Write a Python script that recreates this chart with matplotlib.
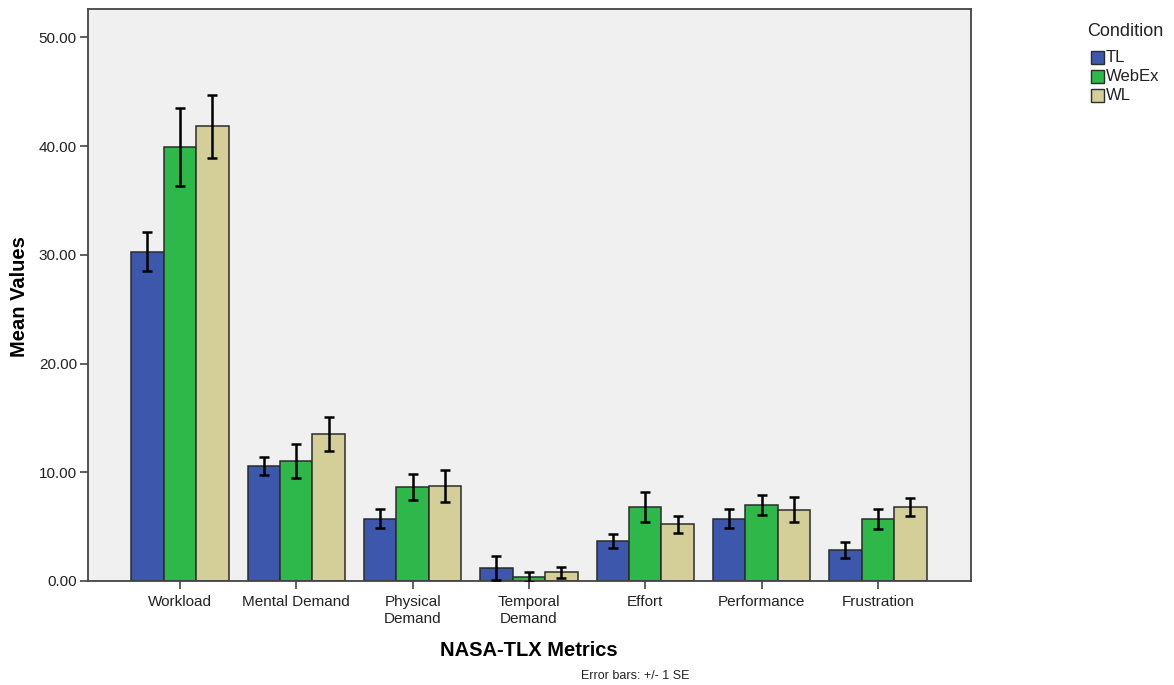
import matplotlib
matplotlib.use("Agg")
import matplotlib.pyplot as plt
import numpy as np
from matplotlib.patches import Rectangle

plt.rcParams['font.family'] = ['Liberation Sans', 'DejaVu Sans']

metrics = ["Workload", "Mental Demand", "Physical\nDemand", "Temporal\nDemand",
           "Effort", "Performance", "Frustration"]
conditions = ["TL", "WebEx", "WL"]

tl_mean = [30.3, 10.6, 5.74, 1.2, 3.68, 5.74, 2.85]
webex_mean = [39.9, 11.05, 8.66, 0.4, 6.81, 6.97, 5.71]
wl_mean = [41.8, 13.5, 8.75, 0.8, 5.22, 6.54, 6.81]

tl_se = [1.75, 0.83, 0.85, 1.12, 0.65, 0.87, 0.72]
webex_se = [3.6, 1.58, 1.17, 0.45, 1.38, 0.93, 0.95]
wl_se = [2.92, 1.58, 1.5, 0.5, 0.8, 1.15, 0.85]

y_ticks = [0, 10, 20, 30, 40, 50]

colors = ["#3D57AC", "#2EB84A", "#D4CF99"]

W, H = 1174, 685
fig = plt.figure(figsize=(W / 100, H / 100), dpi=100)
ax = fig.add_axes([88 / W, 104 / H, 883 / W, 572 / H])
ax.set_facecolor("#F0F0F0")

x = np.arange(len(metrics))
width = 0.279
means = [tl_mean, webex_mean, wl_mean]
ses = [tl_se, webex_se, wl_se]
for i, (m, s, c) in enumerate(zip(means, ses, colors)):
    pos = x + (i - 1) * width
    ax.bar(pos, m, width, color=c, edgecolor="#2b2b2b", linewidth=1.1, zorder=2)
    ax.errorbar(pos, m, yerr=s, fmt="none", ecolor="black", elinewidth=1.8,
                capsize=3.5, capthick=1.8, zorder=3)

ax.set_xlim(-0.79, 6.8)
ax.set_ylim(0, 52.6)
ax.set_yticks(y_ticks)
ax.set_yticklabels([f"{v:.2f}" for v in y_ticks], fontsize=11, color="#222222")
ax.set_xticks(x)
ax.set_xticklabels(metrics, fontsize=11, color="#222222", linespacing=1.25)
ax.tick_params(axis="both", direction="out", length=6, width=1.2, color="#444444")
ax.tick_params(axis="x", pad=4)
ax.tick_params(axis="y", pad=2)
for sp in ax.spines.values():
    sp.set_color("#444444")
    sp.set_linewidth(1.3)

ax.set_ylabel("Mean Values", fontsize=14.5, fontweight="bold", va="center")
ax.yaxis.set_label_coords((20 - 88) / 883, (581 - 297) / 572)
fig.text(529 / W, 1 - 651 / H, "NASA-TLX Metrics", fontsize=14.5,
         fontweight="bold", ha="center", va="center")

fig.text(635 / W, 1 - 676 / H, "Error bars: +/- 1 SE", fontsize=9,
         ha="center", va="center", color="#222222")

# Legend for the three conditions
fig.text(1087 / W, 1 - 31 / H, "Condition", fontsize=13, ha="left",
         va="center", color="#222222")
for i, (c, lab) in enumerate(zip(colors, conditions)):
    yc = 57.5 + i * 19
    fig.add_artist(Rectangle((1091 / W, 1 - (yc + 6.5) / H), 13 / W, 13 / H,
                             transform=fig.transFigure, facecolor=c,
                             edgecolor="#2b2b2b", linewidth=1.0))
    fig.text(1106 / W, 1 - yc / H, lab, fontsize=12, ha="left", va="center",
             color="#222222")

fig.savefig("out.png", dpi=100)
